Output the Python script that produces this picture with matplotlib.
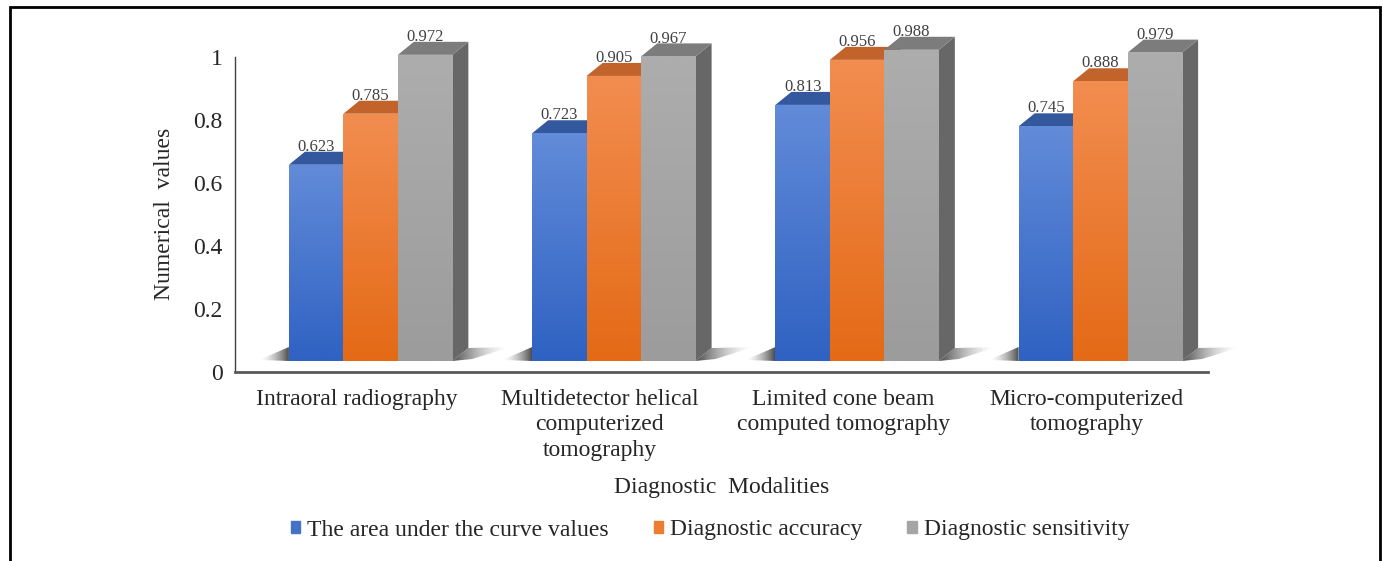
import numpy as np
import matplotlib.pyplot as plt
from matplotlib.patches import Polygon, Rectangle
from matplotlib.colors import to_rgb
from matplotlib.transforms import ScaledTranslation, IdentityTransform

plt.rcParams['font.family'] = ['Liberation Serif', 'DejaVu Serif']

modalities = ['Intraoral radiography',
              'Multidetector helical\ncomputerized\ntomography',
              'Limited cone beam\ncomputed tomography',
              'Micro-computerized\ntomography']
auc_values = [0.623, 0.723, 0.813, 0.745]
accuracy_values = [0.785, 0.905, 0.956, 0.888]
sensitivity_values = [0.972, 0.967, 0.988, 0.979]
series_names = ['The area under the curve values', 'Diagnostic accuracy',
                'Diagnostic sensitivity']
y_ticks = [0, 0.2, 0.4, 0.6, 0.8, 1]
y_tick_labels = ['0', '0.2', '0.4', '0.6', '0.8', '1']

# front gradient (top, bottom), top face, side face, legend swatch
styles = [
    ('#628bd9', '#2f62c2', '#34589e', '#2a4d94', '#4472c4'),
    ('#f28d50', '#e46a16', '#c2632c', '#b05a20', '#ed7d31'),
    ('#adadad', '#9c9c9c', '#7c7c7c', '#676767', '#a5a5a5'),
]

W, H, DPI = 1382, 561, 100
DX, DY = 16, 13      # bar depth in pixels
BAR_W = 0.224

fig = plt.figure(figsize=(W / DPI, H / DPI), dpi=DPI)
ax = fig.add_axes([235 / W, 189 / H, 973 / W, 1.12 * 315 / H])
ax.set_xlim(-0.5, 3.5)
ax.set_ylim(0, 1.12)

# the floor of the 3d chart sits a bit above and right of the axis
shift = ScaledTranslation(14 / DPI, 11 / DPI, fig.dpi_scale_trans)
bar_tr = ax.transData + shift
pix = IdentityTransform()


def gradient_image(rgba, extent, clip, z):
    im = ax.imshow(rgba, extent=extent, aspect='auto', transform=pix,
                   interpolation='bilinear', zorder=z)
    im.set_clip_box(fig.bbox)
    im.set_clip_path(clip)
    return im


def vertical_gradient(c_top, c_bot, n=64):
    t = np.linspace(0, 1, n)[:, None]
    a, b = np.array(to_rgb(c_top)), np.array(to_rgb(c_bot))
    return (a * (1 - t) + b * t)[:, None, :]


def shadow_gradient(fade_left, n=64):
    alpha = np.linspace(0, 0.8, n) if fade_left else np.linspace(0.8, 0, n)
    img = np.zeros((1, n, 4))
    img[0, :, 3] = alpha ** 1.6
    return img


x = np.arange(len(modalities))
series = [auc_values, accuracy_values, sensitivity_values]
handles = []

for j, values in enumerate(series):
    c_top, c_bot, c_lid, c_side, c_leg = styles[j]
    bars = ax.bar(x + (j - 1) * BAR_W, values, BAR_W, color=c_leg,
                  transform=bar_tr, zorder=3 + 3 * j, label=series_names[j])
    handles.append(Rectangle((0, 0), 1, 1, color=c_leg))
    for b, v in zip(bars, values):
        x0, x1 = b.get_x(), b.get_x() + b.get_width()
        (px0, py0), (px1, py1) = bar_tr.transform([(x0, 0), (x1, v)])
        top = Polygon([(px0, py1), (px1, py1), (px1 + DX, py1 + DY),
                       (px0 + DX, py1 + DY)], closed=True, transform=pix,
                      facecolor=c_lid, edgecolor='none', zorder=2 + 3 * j)
        side = Polygon([(px1, py0), (px1 + DX, py0 + DY), (px1 + DX, py1 + DY),
                        (px1, py1)], closed=True, transform=pix,
                       facecolor=c_side, edgecolor='none', zorder=2 + 3 * j)
        ax.add_patch(side)
        ax.add_patch(top)
        gradient_image(vertical_gradient(c_top, c_bot), [px0, px1, py0, py1],
                       b, 4 + 3 * j)
        ax.annotate(str(v), xy=((x0 + x1) / 2, v), xycoords=bar_tr,
                    xytext=(0, 10), textcoords='offset points', ha='center',
                    va='baseline', fontsize=12, color='#404040', zorder=20)

# soft floor shadows at both ends of each group
for i in x:
    (lx, by), = bar_tr.transform([(i - 1.5 * BAR_W, 0)])
    (rx, _), = bar_tr.transform([(i + 1.5 * BAR_W, 0)])
    left = Polygon([(lx, by), (lx - 30, by + 1), (lx, by + DY + 1)],
                   closed=True, transform=pix, facecolor='none',
                   edgecolor='none')
    ax.add_patch(left)
    gradient_image(shadow_gradient(True), [lx - 30, lx, by, by + DY + 1],
                   left, 1)
    right = Polygon([(rx, by), (rx + DX, by + DY), (rx + DX + 42, by + DY + 1),
                     (rx + 20, by + 2)], closed=True, transform=pix,
                    facecolor='none', edgecolor='none')
    ax.add_patch(right)
    gradient_image(shadow_gradient(False), [rx, rx + DX + 42, by, by + DY + 1],
                   right, 1)

ax.set_xlim(-0.5, 3.5)
ax.set_ylim(0, 1.12)

ax.spines['top'].set_visible(False)
ax.spines['right'].set_visible(False)
ax.spines['left'].set_bounds(0, 1)
ax.spines['left'].set_color('#404040')
ax.spines['left'].set_linewidth(1)
ax.spines['bottom'].set_color('#595959')
ax.spines['bottom'].set_linewidth(2)

ax.set_yticks(y_ticks)
ax.set_yticklabels(y_tick_labels)
ax.set_xticks(x)
ax.set_xticklabels(modalities, linespacing=1.3)
ax.tick_params(axis='y', length=0, pad=9, labelsize=17, labelcolor='#262626')
ax.tick_params(axis='x', length=0, pad=12, labelsize=17, labelcolor='#262626')

fig.text(721.5 / W, 1 - 488 / H, 'Diagnostic  Modalities', ha='center',
         va='center', fontsize=17, color='#262626')
fig.text(165 / W, 1 - 214 / H, 'Numerical  values', ha='center',
         va='center', rotation=90, fontsize=17, color='#262626')

fig.legend(handles, series_names, loc='center', ncol=3,
           bbox_to_anchor=(710 / W, 1 - 530 / H), frameon=False, fontsize=17,
           handlelength=0.4, handleheight=0.4, handletextpad=0.3,
           columnspacing=1.9, labelcolor='#262626')

# outer frame, open at the bottom
fig.add_artist(Rectangle((10 / W, -0.1), 1370 / W, 1.1 - 7 / H,
                         transform=fig.transFigure, fill=False,
                         edgecolor='black', linewidth=2))

fig.savefig('out.png', dpi=DPI)
